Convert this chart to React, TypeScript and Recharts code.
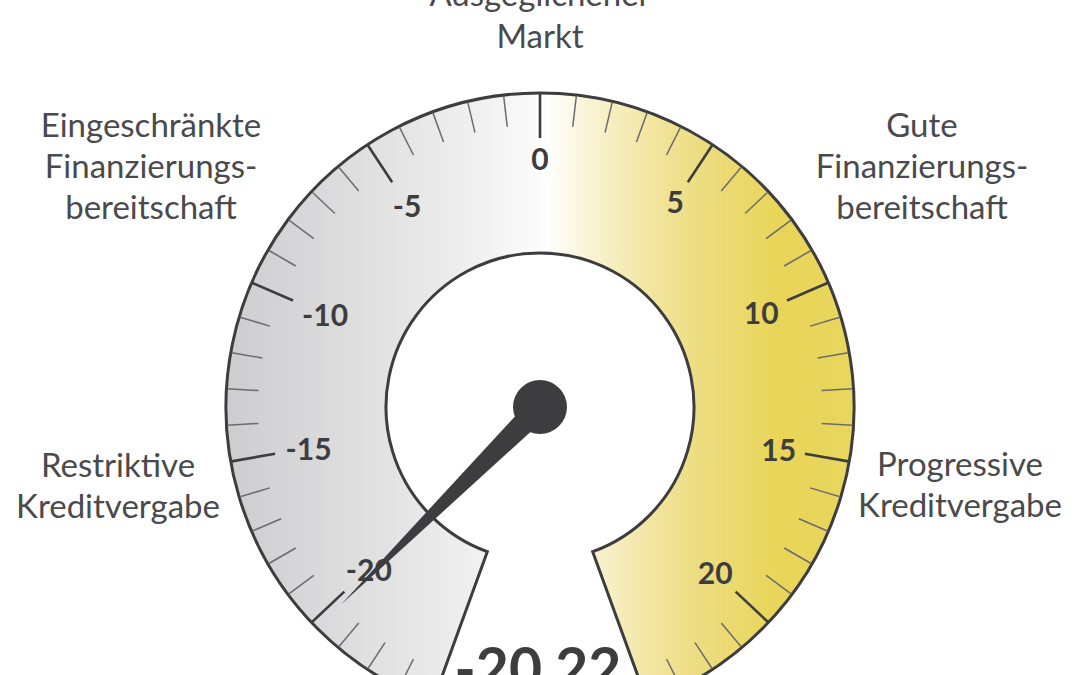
import React from 'react';
import { RadialBarChart, RadialBar, PolarAngleAxis, PolarRadiusAxis } from 'recharts';

// ---- data ----
const scaleName = 'Kreditindex';
const scaleDomain = [-24, 24];
const scaleTicks = [-23, -22, -21, -20, -19, -18, -17, -16, -15, -14, -13, -12, -11, -10, -9, -8, -7, -6, -5, -4, -3, -2, -1, 0, 1, 2, 3, 4, 5, 6, 7, 8, 9, 10, 11, 12, 13, 14, 15, 16, 17, 18, 19, 20, 21, 22, 23];
const majorTicks = [-20, -15, -10, -5, 0, 5, 10, 15, 20];
const majorTickLabels = ['-20', '-15', '-10', '-5', '0', '5', '10', '15', '20'];
const indexValue = -20.22;
const indexLabel = '-20,22';
const zoneTop = ['Ausgeglichener', 'Markt'];
const zoneUpperLeft = ['Eingeschränkte', 'Finanzierungs-', 'bereitschaft'];
const zoneUpperRight = ['Gute', 'Finanzierungs-', 'bereitschaft'];
const zoneLowerLeft = ['Restriktive', 'Kreditvergabe'];
const zoneLowerRight = ['Progressive', 'Kreditvergabe'];

const bandData = [{ name: scaleName, range: scaleDomain }];
const axisTicks = [...scaleTicks, indexValue];

// ---- geometry / style ----
const W = 1080;
const H = 675;
const CX = 540;
const CY = 407;
const INNER = 154;
const OUTER = 314;
const START = 250;
const END = -70;
const DARK = '#3d3d3f';
const TEXT = '#4a4a4c';
const FONT = 'Lato, "Open Sans", sans-serif';
const RAD = Math.PI / 180;

const getCenter = (p: any) => ({
  cx: typeof p.cx === 'number' ? p.cx : CX,
  cy: typeof p.cy === 'number' ? p.cy : CY,
  r: OUTER,
});

const ScaleTick = (props: any) => {
  const { payload } = props;
  const value = payload.value;
  const a = payload.coordinate * RAD;
  const { cx, cy, r } = getCenter(props);
  const ux = Math.cos(a);
  const uy = -Math.sin(a);
  if (value === indexValue) {
    const px = -uy;
    const py = ux;
    const tipR = 280;
    const half = 12;
    const pts = [
      [cx + half * px, cy + half * py],
      [cx + tipR * ux, cy + tipR * uy],
      [cx - half * px, cy - half * py],
    ]
      .map((p) => p.join(','))
      .join(' ');
    return (
      <g>
        <polygon points={pts} fill={DARK} />
        <circle cx={cx} cy={cy} r={27} fill={DARK} />
      </g>
    );
  }
  const mi = majorTicks.indexOf(value);
  const isMajor = mi >= 0;
  const len = isMajor ? 45 : 32;
  const r0 = r - 1;
  const r1 = r - len;
  let lr = 240;
  if (isMajor) {
    const txt = majorTickLabels[mi];
    const hw = (txt.length * 15 + 2) / 2;
    const hh = 11;
    lr = 260 - (hw * Math.abs(ux) + hh * Math.abs(uy));
  }
  return (
    <g>
      <line
        x1={cx + r0 * ux}
        y1={cy + r0 * uy}
        x2={cx + r1 * ux}
        y2={cy + r1 * uy}
        stroke={isMajor ? DARK : '#6b6b6d'}
        strokeWidth={isMajor ? 2.6 : 1.5}
      />
      {isMajor && (
        <text
          x={cx + lr * ux}
          y={cy + lr * uy}
          textAnchor="middle"
          dominantBaseline="central"
          fontFamily={FONT}
          fontWeight={700}
          fontSize={30}
          fill={DARK}
        >
          {majorTickLabels[mi]}
        </text>
      )}
    </g>
  );
};

const Label = ({ lines, x, y, lh = 41 }: { lines: string[]; x: number; y: number; lh?: number }) => (
  <text textAnchor="middle" fontFamily={FONT} fontSize={33} fill={TEXT}>
    {lines.map((l, i) => (
      <tspan key={i} x={x} y={y + i * lh}>
        {l}
      </tspan>
    ))}
  </text>
);

export default function App() {
  return (
    <div style={{ position: 'absolute', left: 0, top: 0, width: W, height: H, background: '#fff', overflow: 'hidden' }}>
      <RadialBarChart
        width={W}
        height={H}
        data={bandData}
        cx={CX}
        cy={CY}
        startAngle={START}
        endAngle={END}
        innerRadius={INNER}
        outerRadius={OUTER}
        barCategoryGap={0}
        barGap={0}
        margin={{ top: 0, right: 0, bottom: 0, left: 0 }}
      >
        <defs>
          <linearGradient id="bandGrad" gradientUnits="userSpaceOnUse" x1={226} y1={0} x2={854} y2={0}>
            <stop offset="0" stopColor="#cdcdcf" />
            <stop offset="0.23" stopColor="#e0e0e1" />
            <stop offset="0.4" stopColor="#f0f0f0" />
            <stop offset="0.5" stopColor="#fcfcfc" />
            <stop offset="0.51" stopColor="#ffffff" />
            <stop offset="0.6" stopColor="#f8f0c8" />
            <stop offset="0.69" stopColor="#f1e49a" />
            <stop offset="0.75" stopColor="#eddd82" />
            <stop offset="0.88" stopColor="#e8d558" />
            <stop offset="1" stopColor="#e8d65e" />
          </linearGradient>
        </defs>
        <PolarRadiusAxis type="category" dataKey="name" tick={false} axisLine={false} tickLine={false} />
        <RadialBar
          dataKey="range"
          fill="url(#bandGrad)"
          stroke={DARK}
          strokeWidth={3}
          isAnimationActive={false}
        />
        <PolarAngleAxis
          type="number"
          domain={scaleDomain}
          ticks={axisTicks}
          tick={<ScaleTick />}
          axisLine={false}
          tickLine={false}
        />
        <Label lines={zoneTop} x={540} y={6} lh={42} />
        <Label lines={zoneUpperLeft} x={151} y={137} />
        <Label lines={zoneUpperRight} x={922} y={137} />
        <Label lines={zoneLowerLeft} x={118} y={477} />
        <Label lines={zoneLowerRight} x={960} y={476} />
        <text x={538} y={689} textAnchor="middle" fontFamily={FONT} fontWeight={700} fontSize={57} fill={DARK}>
          {indexLabel}
        </text>
      </RadialBarChart>
    </div>
  );
}
